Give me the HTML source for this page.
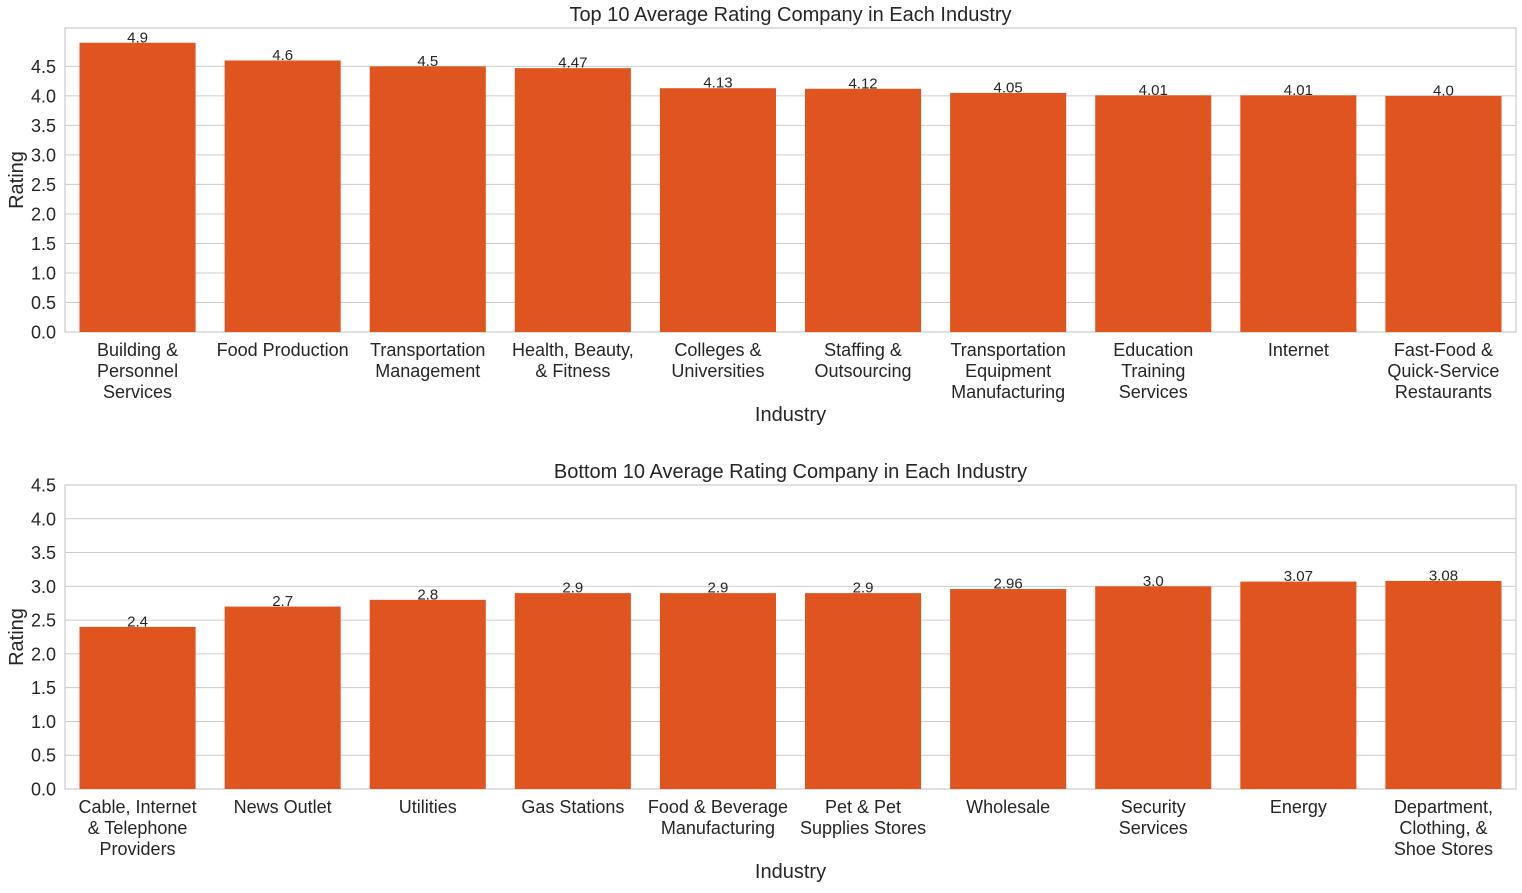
<!DOCTYPE html>
<html><head><meta charset="utf-8"><style>
body{margin:0;background:#fff;}
svg{font-family:"Liberation Sans",Arial,sans-serif;}
</style></head><body>
<svg id="c" width="1522" height="888" xmlns="http://www.w3.org/2000/svg"></svg>
<script>
const topCats=[["Building &","Personnel","Services"],["Food Production"],["Transportation","Management"],["Health, Beauty,","& Fitness"],["Colleges &","Universities"],["Staffing &","Outsourcing"],["Transportation","Equipment","Manufacturing"],["Education","Training","Services"],["Internet"],["Fast-Food &","Quick-Service","Restaurants"]];
const topVals=[4.9,4.6,4.5,4.47,4.13,4.12,4.05,4.01,4.01,4.0];
const topLabels=["4.9","4.6","4.5","4.47","4.13","4.12","4.05","4.01","4.01","4.0"];
const botCats=[["Cable, Internet","& Telephone","Providers"],["News Outlet"],["Utilities"],["Gas Stations"],["Food & Beverage","Manufacturing"],["Pet & Pet","Supplies Stores"],["Wholesale"],["Security","Services"],["Energy"],["Department,","Clothing, &","Shoe Stores"]];
const botVals=[2.4,2.7,2.8,2.9,2.9,2.9,2.96,3.0,3.07,3.08];
const botLabels=["2.4","2.7","2.8","2.9","2.9","2.9","2.96","3.0","3.07","3.08"];
const topTicks=[0,0.5,1,1.5,2,2.5,3,3.5,4,4.5];
const botTicks=[0,0.5,1,1.5,2,2.5,3,3.5,4,4.5];
const svg=document.getElementById('c');
const NS="http://www.w3.org/2000/svg";
function el(t,a,p){const e=document.createElementNS(NS,t);for(const k in a)e.setAttribute(k,a[k]);(p||svg).appendChild(e);return e;}
function panel(prefix,title,cats,vals,labels,ticks,top,bottom,ymax){
  const L=65,R=1516,W=R-L,g=el('g',{});
  
  
  const y=v=>bottom-(v/ymax)*(bottom-top);
  const slot=W/cats.length;
  const x=i=>L+slot*i+slot/2;
  ticks.forEach(t=>{
    const ln=el('line',{x1:L,x2:R,y1:y(t),y2:y(t),stroke:'#cccccc','stroke-width':1},g);
    
    
    const tx=el('text',{x:L-9,y:y(t)+6.5,'text-anchor':'end','font-size':18,fill:'#262626'},g);
    tx.textContent=t.toFixed(1);
    
    
  });
  const fr=el('rect',{x:L,y:top,width:W,height:bottom-top,fill:'none',stroke:'#cccccc','stroke-width':1.2},g);
  
  
  vals.forEach((v,i)=>{
    const bw=slot*0.8;
    const r=el('rect',{x:x(i)-bw/2,y:y(v),width:bw,height:bottom-y(v),fill:'#e05420'},g);
    
    
    const vl=el('text',{x:x(i),y:y(v)-0.5,'text-anchor':'middle','font-size':15,fill:'#262626'},g);
    vl.textContent=labels[i];
    
    
    cats[i].forEach((line,j)=>{
      const c=el('text',{x:x(i),y:bottom+24+j*21,'text-anchor':'middle','font-size':18,fill:'#262626'},g);
      c.textContent=line;
      
      
    });
  });
  const tt=el('text',{x:(L+R)/2,y:top-7,'text-anchor':'middle','font-size':20,fill:'#262626'},g);
  tt.textContent=title;
  
  
  const xt=el('text',{x:(L+R)/2,y:bottom+89,'text-anchor':'middle','font-size':20,fill:'#262626'},g);
  xt.textContent='Industry';
  
  
  const cy=(top+bottom)/2;
  const yt=el('text',{x:23,y:cy,'text-anchor':'middle','font-size':20,fill:'#262626',transform:`rotate(-90 23 ${cy})`},g);
  yt.textContent='Rating';
  
  
}
panel('top','Top 10 Average Rating Company in Each Industry',topCats,topVals,topLabels,topTicks,28,332,5.15);
panel('bottom','Bottom 10 Average Rating Company in Each Industry',botCats,botVals,botLabels,botTicks,485,789,4.5);
</script>
</body></html>
